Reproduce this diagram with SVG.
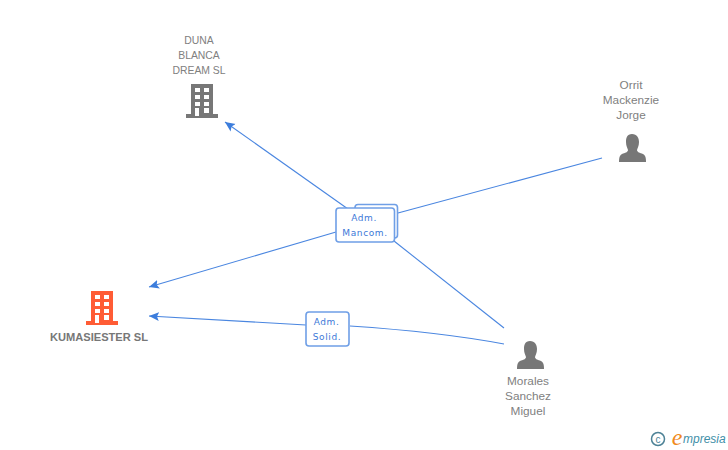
<svg xmlns="http://www.w3.org/2000/svg" width="728" height="450" viewBox="0 0 728 450">
<style>
.n{font-family:"Liberation Sans",Arial,sans-serif;font-size:10.4px;fill:#808080;text-anchor:middle}
.p{font-family:"Liberation Sans",Arial,sans-serif;font-size:11.8px;fill:#808080;text-anchor:middle}
.b{font-family:"Liberation Sans",Arial,sans-serif;font-size:11.1px;font-weight:bold;fill:#777;text-anchor:middle}
.e{font-family:"DejaVu Sans",sans-serif;font-size:9px;fill:#3c78d8;text-anchor:middle;letter-spacing:.6px}
.l{fill:none;stroke:#4a86e0;stroke-width:1.1}
.box{fill:#fff;stroke:#6f9fe6;stroke-width:1.6}
</style>
<defs>
<marker id="a" markerUnits="userSpaceOnUse" markerWidth="11" markerHeight="10" refX="10" refY="5" orient="auto"><path d="M10 5L0 0.500L2 5L0 9.500Z" fill="#3c7ddc"/></marker>
<g id="bld"><path d="M-11 -17H11V13H16V17H-16V13H-11Z"/></g>
<g id="win" fill="#fff"><rect x="-7" y="-13" width="5" height="4"/><rect x="2" y="-13" width="5" height="4"/><rect x="-7" y="-6" width="5" height="4"/><rect x="2" y="-6" width="5" height="4"/><rect x="-7" y="1" width="5" height="4"/><rect x="2" y="1" width="5" height="4"/><rect x="-7" y="7" width="4" height="8"/><rect x="2" y="7" width="5" height="5"/></g>
<path id="per" d="M-1 -14C-6 -14 -7 -10 -7 -6C-7 -2 -5.500 0 -5 2C-5 4 -8 5 -11 6C-13 7 -14 9 -14 14H13C13 9 12 7 10 6C7 5 4 4 4 2C4.500 0 6 -2 6 -6C6 -10 4 -14 -1 -14Z"/>
</defs>
<g id="connectors">
<path class="l" d="M602 158L398 213"/>
<path class="l" d="M504 328L394 241"/>
<path class="l" d="M348 209L225 122" marker-end="url(#a)"/>
<path class="l" d="M336 232L149 287" marker-end="url(#a)"/>
<path class="l" d="M504 344Q440 332 350 326"/>
<path class="l" d="M306 325L149 316" marker-end="url(#a)"/>
</g>
<g id="edge-mancom">
<rect class="box" x="355" y="204.500" width="42.500" height="33.500" rx="3"/>
<rect class="box" x="336" y="208" width="58.500" height="34" rx="3"/>
<text class="e" x="364" y="221">Adm.</text>
<text class="e" x="365" y="236">Mancom.</text>
</g>
<g id="edge-solid">
<rect class="box" x="306" y="312" width="43" height="34" rx="3"/>
<text class="e" x="326.500" y="325">Adm.</text>
<text class="e" x="327" y="340">Solid.</text>
</g>
<g id="node-duna">
<use href="#bld" x="202" y="101" fill="#777"/><use href="#win" x="202" y="101"/>
<text class="n" x="199" y="44">DUNA</text><text class="n" x="199" y="59">BLANCA</text><text class="n" x="199" y="74">DREAM SL</text>
</g>
<g id="node-kumasiester">
<use href="#bld" x="102" y="308" fill="#ff5c35"/><use href="#win" x="102" y="308"/>
<text class="b" x="99" y="341">KUMASIESTER SL</text>
</g>
<g id="node-orrit">
<use href="#per" x="633" y="148" fill="#777"/>
<text class="p" x="631" y="89">Orrit</text><text class="p" x="631" y="104">Mackenzie</text><text class="p" x="631" y="119">Jorge</text>
</g>
<g id="node-morales">
<use href="#per" x="531" y="355" fill="#777"/>
<text class="p" x="528" y="385">Morales</text><text class="p" x="528" y="400">Sanchez</text><text class="p" x="528" y="415">Miguel</text>
</g>
<g id="logo">
<circle cx="658" cy="439" r="6.500" fill="none" stroke="#4d8296" stroke-width="1.500"/>
<text x="658" y="442.500" font-family="Liberation Sans,sans-serif" font-size="10" fill="#4d8296" text-anchor="middle">c</text>
<text x="677" y="445" font-family="Liberation Serif,serif" font-style="italic" font-size="24" fill="#f08a1d" text-anchor="middle">e</text>
<text x="683" y="443" font-family="Liberation Sans,sans-serif" font-style="italic" font-size="12" fill="#3f8fa8">mpresia</text>
</g>
</svg>
